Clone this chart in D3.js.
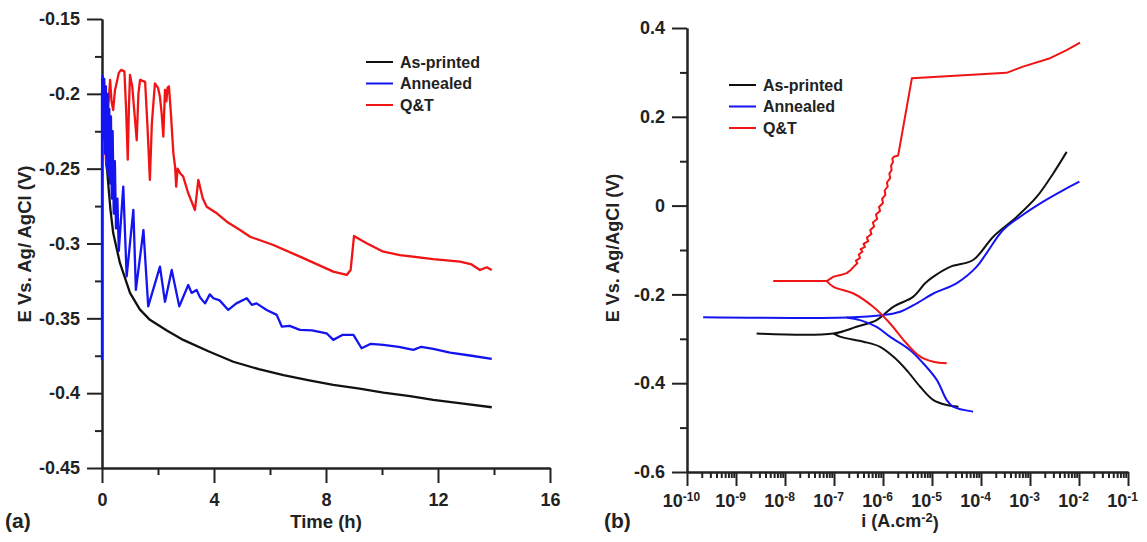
<!DOCTYPE html>
<html>
<head>
<meta charset="utf-8">
<script src="https://cdn.jsdelivr.net/npm/d3@7"></script>
<style>
body { margin: 0; background: #fff; }
svg text { font-family: "Liberation Sans", Arial, sans-serif; font-weight: bold; fill: #222; }
.axis path, .axis line { stroke: #222; stroke-width: 2; }
.axis text { font-size: 18px; }
</style>
</head>
<body>
<svg id="chart" width="1147" height="542"></svg>
<script>
const seriesNames = ['As-printed', 'Annealed', 'Q&T'];
const seriesColors = ['#111111', '#1414f0', '#f01414'];

// (a) open circuit potential: [time (h), E (V)]
const ocpPrinted = [[0,-0.19],[0.05,-0.205],[0.1,-0.225],[0.2,-0.255],[0.3,-0.277],[0.4,-0.293],[0.64,-0.313],[1.0,-0.333],
  [1.35,-0.344],[1.71,-0.351],[2.3,-0.358],[2.9,-0.3644],[3.8,-0.372],[4.69,-0.379],[5.6,-0.384],[6.48,-0.388],
  [7.4,-0.3915],[8.26,-0.3945],[9.2,-0.397],[10.05,-0.3996],[11.0,-0.402],[11.83,-0.4045],[12.9,-0.407],[13.92,-0.4094]];
const ocpAnnealed = [[0,-0.378],[0,-0.20],[0.02,-0.188],[0.05,-0.23],[0.08,-0.19],[0.11,-0.24],[0.14,-0.195],[0.17,-0.25],
  [0.2,-0.2],[0.23,-0.255],[0.26,-0.21],[0.29,-0.26],[0.32,-0.215],[0.35,-0.27],[0.38,-0.225],[0.42,-0.28],[0.46,-0.245],
  [0.5,-0.29],[0.55,-0.27],[0.6,-0.305],[0.76,-0.262],[0.88,-0.322],[1.12,-0.2776],[1.21,-0.331],[1.48,-0.291],[1.65,-0.342],
  [2.07,-0.3155],[2.25,-0.339],[2.49,-0.3177],[2.76,-0.342],[3.08,-0.3277],[3.2,-0.333],[3.38,-0.331],[3.5,-0.336],
  [3.68,-0.340],[3.85,-0.334],[3.98,-0.3366],[4.2,-0.338],[4.51,-0.3444],[4.8,-0.340],[5.17,-0.3366],[5.35,-0.341],
  [5.52,-0.340],[5.88,-0.3444],[6.24,-0.3477],[6.42,-0.3555],[6.7,-0.355],[7.07,-0.3577],[7.5,-0.358],[8.02,-0.36],
  [8.26,-0.3644],[8.6,-0.361],[8.98,-0.3611],[9.27,-0.370],[9.6,-0.367],[10.05,-0.3677],[10.6,-0.369],[11.12,-0.3711],
  [11.4,-0.369],[11.83,-0.3704],[12.43,-0.3729],[13.2,-0.375],[13.92,-0.3771]];
const ocpQT = [[0,-0.215],[0.05,-0.235],[0.1,-0.228],[0.15,-0.248],[0.17,-0.246],[0.22,-0.21],[0.29,-0.1907],[0.34,-0.205],
  [0.40,-0.2108],[0.46,-0.198],[0.52,-0.193],[0.6,-0.186],[0.68,-0.184],[0.80,-0.185],[0.86,-0.21],[0.92,-0.244],[0.96,-0.21],
  [1.0,-0.1874],[1.08,-0.195],[1.24,-0.231],[1.3,-0.2],[1.36,-0.1907],[1.54,-0.192],[1.62,-0.22],[1.71,-0.2575],[1.78,-0.22],
  [1.89,-0.193],[2.0,-0.196],[2.07,-0.202],[2.13,-0.213],[2.19,-0.2286],[2.25,-0.1974],[2.3,-0.205],[2.34,-0.196],[2.39,-0.195],
  [2.45,-0.21],[2.55,-0.24],[2.61,-0.2487],[2.65,-0.262],[2.7,-0.25],[2.79,-0.253],[2.9,-0.2553],[3.08,-0.2664],[3.32,-0.2776],
  [3.44,-0.2575],[3.6,-0.27],[3.74,-0.2754],[4.1,-0.2798],[4.5,-0.286],[4.93,-0.291],[5.29,-0.2955],[6.12,-0.301],
  [7.07,-0.3088],[8.26,-0.3188],[8.74,-0.321],[8.88,-0.3177],[9.0,-0.295],[9.45,-0.2998],[10.05,-0.3055],[10.64,-0.3077],
  [11.83,-0.3105],[12.79,-0.3121],[13.2,-0.314],[13.5,-0.3177],[13.74,-0.3159],[13.92,-0.3177]];

// (b) polarization: [i (A/cm2), E (V)], anodic and cathodic branches
const polPrintedAnodic = [[2.63e-9,-0.288],[9.8e-8,-0.288],[2.88e-7,-0.273],[7.4e-7,-0.258],[1.62e-6,-0.228],[4.17e-6,-0.205],
  [7.24e-6,-0.175],[1.07e-5,-0.160],[2.34e-5,-0.138],[6.9e-5,-0.1225],[1.78e-4,-0.070],[5.4e-4,-0.025],[1.38e-3,0.020],
  [3.0e-3,0.073],[5.6e-3,0.121]];
const polPrintedCathodic = [[9.8e-8,-0.288],[1.32e-7,-0.295],[4.0e-7,-0.3065],[8.7e-7,-0.318],[1.62e-6,-0.340],[3.0e-6,-0.370],
  [5.75e-6,-0.408],[1.07e-5,-0.438],[2.0e-5,-0.449],[3.47e-5,-0.453]];
const polAnnealedAnodic = [[2.14e-10,-0.2516],[1.82e-7,-0.252],[1.02e-6,-0.2464],[2.24e-6,-0.239],[4.9e-6,-0.220],[1.07e-5,-0.198],
  [3.16e-5,-0.175],[8.1e-5,-0.138],[1.29e-4,-0.1075],[2.82e-4,-0.055],[6.3e-4,-0.025],[1.86e-3,0.009],[4.8e-3,0.035],[1.02e-2,0.054]];
const polAnnealedCathodic = [[1.82e-7,-0.252],[3.4e-7,-0.258],[7.4e-7,-0.273],[1.38e-6,-0.295],[3.55e-6,-0.325],[6.6e-6,-0.355],
  [1.26e-5,-0.393],[2.0e-5,-0.438],[2.69e-5,-0.453],[6.9e-5,-0.464]];
const polQTAnodic = [[5.75e-9,-0.170],[7.1e-8,-0.170],[9.8e-8,-0.160],[1.5e-7,-0.155],[1.82e-7,-0.152],[2.2e-7,-0.145],[2.5e-7,-0.138],
  [3.0e-7,-0.130],[2.8e-7,-0.124],[3.4e-7,-0.118],[3.2e-7,-0.110],[3.8e-7,-0.104],[3.5e-7,-0.098],[4.3e-7,-0.093],[4.0e-7,-0.086],
  [5.0e-7,-0.080],[4.7e-7,-0.072],[5.8e-7,-0.064],[5.5e-7,-0.055],[6.6e-7,-0.047],[6.2e-7,-0.038],[7.6e-7,-0.030],[7.2e-7,-0.020],
  [8.7e-7,-0.012],[8.3e-7,-0.003],[1.0e-6,0.006],[9.6e-7,0.015],[1.12e-6,0.024],[1.08e-6,0.034],[1.25e-6,0.043],[1.2e-6,0.052],
  [1.4e-6,0.062],[1.35e-6,0.072],[1.5e-6,0.080],[1.46e-6,0.090],[1.6e-6,0.098],[1.55e-6,0.106],[1.66e-6,0.110],[2.04e-6,0.113],
  [3.89e-6,0.287],[3.31e-4,0.299],[7.2e-4,0.313],[2.57e-3,0.332],[5.6e-3,0.350],[1.05e-2,0.367]];
const polQTCathodic = [[7.1e-8,-0.170],[9.8e-8,-0.183],[2.5e-7,-0.198],[6.3e-7,-0.228],[1.38e-6,-0.265],[3.0e-6,-0.310],
  [5.75e-6,-0.340],[1.07e-5,-0.3515],[2.0e-5,-0.355]];

const timeMajor = [0, 4, 8, 12, 16];
const timeMinor = [2, 6, 10, 14];
const ocpMajor = [-0.45, -0.4, -0.35, -0.3, -0.25, -0.2, -0.15];
const ocpLabels = ['-0.45', '-0.4', '-0.35', '-0.3', '-0.25', '-0.2', '-0.15'];
const ocpMinor = [-0.425, -0.375, -0.325, -0.275, -0.225, -0.175];
const decadeExps = [-10, -9, -8, -7, -6, -5, -4, -3, -2, -1];
const polMajor = [-0.6, -0.4, -0.2, 0, 0.2, 0.4];
const polLabels = ['-0.6', '-0.4', '-0.2', '0', '0.2', '0.4'];
const polMinor = [-0.5, -0.3, -0.1, 0.1, 0.3];

const svg = d3.select('#chart');

// ---------- panel (a)
const xa = d3.scaleLinear().domain([0, 16]).range([102, 550]);
const ya = d3.scaleLinear().domain([-0.45, -0.15]).range([468, 19]);

svg.append('g').attr('class', 'axis').attr('transform', 'translate(0,468)')
  .call(d3.axisBottom(xa).tickValues(timeMinor).tickSize(7).tickSizeOuter(0).tickFormat(''));
svg.append('g').attr('class', 'axis').attr('transform', 'translate(0,468)')
  .call(d3.axisBottom(xa).tickValues(timeMajor).tickSize(15).tickSizeOuter(0).tickPadding(10));
svg.append('g').attr('class', 'axis').attr('transform', 'translate(102,0)')
  .call(d3.axisLeft(ya).tickValues(ocpMinor).tickSize(7).tickSizeOuter(0).tickFormat(''));
svg.append('g').attr('class', 'axis').attr('transform', 'translate(102,0)')
  .call(d3.axisLeft(ya).tickValues(ocpMajor).tickSize(15).tickSizeOuter(0).tickPadding(7)
    .tickFormat((d, i) => ocpLabels[i]));

const lineA = d3.line().x(d => xa(d[0])).y(d => ya(d[1]));
[ocpPrinted, ocpQT, ocpAnnealed].forEach((s, k) => {
  const c = [0, 2, 1][k];
  svg.append('path').datum(s).attr('d', lineA)
    .attr('fill', 'none').attr('stroke', seriesColors[c]).attr('stroke-width', 2.3).attr('stroke-linejoin', 'round');
});

svg.append('text').attr('x', 326).attr('y', 528).attr('text-anchor', 'middle').style('font-size', '18.5px').text('Time (h)');
svg.append('text').attr('transform', 'translate(31,244) rotate(-90)').attr('text-anchor', 'middle')
  .style('font-size', '18.5px').text('E Vs. Ag/ AgCl (V)');
svg.append('text').attr('x', 5).attr('y', 528).style('font-size', '21px').text('(a)');

function legend(x, y, gap) {
  seriesNames.forEach((n, i) => {
    svg.append('line').attr('x1', x).attr('x2', x + 27).attr('y1', y + i * gap).attr('y2', y + i * gap)
      .attr('stroke', seriesColors[i]).attr('stroke-width', 2);
    svg.append('text').attr('x', x + 34).attr('y', y + i * gap + 5.5).style('font-size', '16px').text(n);
  });
}
legend(366, 62, 21.5);

// ---------- panel (b)
const xb = d3.scaleLog().domain([1e-10, 1e-1]).range([687, 1128]);
const yb = d3.scaleLinear().domain([-0.6, 0.4]).range([472, 28]);

const minorI = [];
decadeExps.slice(0, -1).forEach(e => { for (let m = 2; m <= 9; m++) minorI.push(m * Math.pow(10, e)); });

svg.append('g').attr('class', 'axis').attr('transform', 'translate(0,472)')
  .call(d3.axisBottom(xb).tickValues(minorI).tickSize(6).tickSizeOuter(0).tickFormat(''));
const xbAxis = svg.append('g').attr('class', 'axis').attr('transform', 'translate(0,472)')
  .call(d3.axisBottom(xb).tickValues(decadeExps.map(e => Math.pow(10, e))).tickSize(14).tickSizeOuter(0).tickPadding(8)
    .tickFormat(''));
xbAxis.selectAll('.tick text').each(function(d, i) {
  const t = d3.select(this).attr('x', -6);
  t.append('tspan').text('10');
  t.append('tspan').attr('dy', '-0.45em').style('font-size', '12px').text(decadeExps[i]);
});
svg.append('g').attr('class', 'axis').attr('transform', 'translate(687,0)')
  .call(d3.axisLeft(yb).tickValues(polMinor).tickSize(7).tickSizeOuter(0).tickFormat(''));
svg.append('g').attr('class', 'axis').attr('transform', 'translate(687,0)')
  .call(d3.axisLeft(yb).tickValues(polMajor).tickSize(15).tickSizeOuter(0).tickPadding(7)
    .tickFormat((d, i) => polLabels[i]));

const lineSmooth = d3.line().x(d => xb(d[0])).y(d => yb(d[1])).curve(d3.curveCatmullRom);
const lineRough = d3.line().x(d => xb(d[0])).y(d => yb(d[1]));
[[polPrintedAnodic, 0, lineSmooth], [polPrintedCathodic, 0, lineSmooth],
 [polAnnealedAnodic, 1, lineSmooth], [polAnnealedCathodic, 1, lineSmooth],
 [polQTAnodic, 2, lineRough], [polQTCathodic, 2, lineSmooth]].forEach(([s, c, ln]) => {
  svg.append('path').datum(s).attr('d', ln)
    .attr('fill', 'none').attr('stroke', seriesColors[c]).attr('stroke-width', 2).attr('stroke-linejoin', 'round');
});

const xt = svg.append('text').attr('x', 900).attr('y', 527).attr('text-anchor', 'middle').style('font-size', '18px');
xt.append('tspan').text('i (A.cm');
xt.append('tspan').attr('dy', '-0.4em').style('font-size', '13px').text('-2');
xt.append('tspan').attr('dy', '0.4em').text(')');
svg.append('text').attr('transform', 'translate(619,248) rotate(-90)').attr('text-anchor', 'middle')
  .style('font-size', '18px').text('E Vs. Ag/AgCl (V)');
svg.append('text').attr('x', 604).attr('y', 528).style('font-size', '21px').text('(b)');

legend(729, 85, 21.5);
</script>
</body>
</html>
